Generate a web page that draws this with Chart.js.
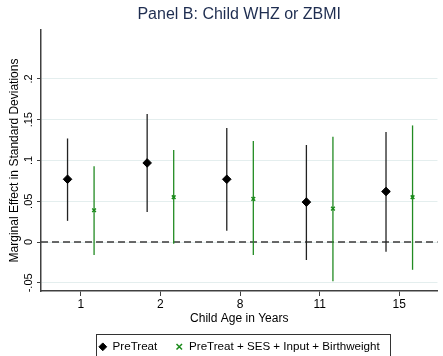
<!DOCTYPE html>
<html>
<head>
<meta charset="utf-8">
<script src="https://cdn.jsdelivr.net/npm/chart.js@4.4.0/dist/chart.umd.min.js"></script>
<style>
  html, body { margin: 0; padding: 0; background: #fff; overflow: hidden; }
  #wrap { width: 443px; height: 356px; }
</style>
</head>
<body>
<div id="wrap"><canvas id="chart" width="443" height="356"></canvas></div>
<script>
// child ages on the x axis
const ageLabels = ['1', '2', '8', '11', '15']

// PreTreat: estimate and 95% interval
const preTreat = [0.077, 0.097, 0.077, 0.049, 0.062]
const preTreatLo = [0.026, 0.037, 0.014, -0.022, -0.012]
const preTreatHi = [0.127, 0.157, 0.140, 0.119, 0.135]

// PreTreat + SES + Input + Birthweight
const fullModel = [0.039, 0.055, 0.053, 0.041, 0.055]
const fullModelLo = [-0.016, -0.002, -0.016, -0.048, -0.034]
const fullModelHi = [0.093, 0.113, 0.124, 0.129, 0.143]

const yTicks = [-0.05, 0, 0.05, 0.1, 0.15, 0.2]
const yTickLabels = ['-.05', '0', '.05', '.1', '.15', '.2']

Chart.defaults.font.family = '"Liberation Sans", Arial, sans-serif'
Chart.defaults.color = '#000'

const axisColor = '#404040'
const shift = 1 / 6

const toPoints = (vals, dx) => vals.map((v, i) => ({ x: i + 1 + dx, y: v }))

// vertical interval lines + dashed zero line
const errorBars = {
    id: 'errorBars',
    beforeDatasetsDraw(chart) {
        const { ctx, chartArea, scales: { y } } = chart
        const y0 = y.getPixelForValue(0)
        ctx.save()
        ctx.strokeStyle = '#3a3a3a'
        ctx.lineWidth = 1.5
        ctx.setLineDash([7, 4])
        ctx.beginPath()
        ctx.moveTo(chartArea.left, y0)
        ctx.lineTo(chartArea.right, y0)
        ctx.stroke()
        ctx.setLineDash([])
        chart.data.datasets.forEach((ds, di) => {
            const meta = chart.getDatasetMeta(di)
            ctx.strokeStyle = ds.barColor
            ctx.lineWidth = 1.3
            meta.data.forEach((pt, i) => {
                ctx.beginPath()
                ctx.moveTo(pt.x, y.getPixelForValue(ds.errLo[i]))
                ctx.lineTo(pt.x, y.getPixelForValue(ds.errHi[i]))
                ctx.stroke()
            })
        })
        ctx.restore()
    }
}

// rotated y tick labels and the legend frame
const decorations = {
    id: 'decorations',
    afterDraw(chart) {
        const { ctx, scales: { y }, legend } = chart
        ctx.save()
        ctx.fillStyle = '#000'
        ctx.font = '11px "Liberation Sans", Arial, sans-serif'
        ctx.textAlign = 'center'
        ctx.textBaseline = 'alphabetic'
        yTicks.forEach((v, i) => {
            ctx.save()
            ctx.translate(32, y.getPixelForValue(v))
            ctx.rotate(-Math.PI / 2)
            ctx.fillText(yTickLabels[i], 0, 0)
            ctx.restore()
        })
        const boxes = legend.legendHitBoxes
        if (boxes && boxes.length) {
            const first = boxes[0]
            const last = boxes[boxes.length - 1]
            const left = Math.round(first.left - 3) + 0.5
            const right = Math.round(last.left + last.width + 10) + 0.5
            ctx.strokeStyle = '#333'
            ctx.lineWidth = 1
            ctx.strokeRect(left, 334.5, right - left, 30)
        }
        ctx.restore()
    }
}

const ctx = document.getElementById('chart').getContext('2d')
new Chart(ctx, {
    type: 'scatter',
    data: {
        datasets: [{
            label: 'PreTreat',
            data: toPoints(preTreat, -shift),
            errLo: preTreatLo,
            errHi: preTreatHi,
            barColor: '#222',
            pointStyle: 'rectRot',
            pointRadius: 4.3,
            borderWidth: 1,
            backgroundColor: '#000',
            borderColor: '#000'
        }, {
            label: 'PreTreat + SES + Input + Birthweight',
            data: toPoints(fullModel, shift),
            errLo: fullModelLo,
            errHi: fullModelHi,
            barColor: '#228b22',
            pointStyle: 'crossRot',
            pointRadius: 2.6,
            borderWidth: 1.5,
            backgroundColor: '#1a8a1a',
            borderColor: '#1a8a1a'
        }]
    },
    options: {
        responsive: false,
        animation: false,
        events: [],
        layout: { padding: 0 },
        plugins: {
            title: {
                display: true,
                text: 'Panel B: Child WHZ or ZBMI',
                fullSize: false,
                color: '#1e2d50',
                font: { size: 16, weight: 'normal' },
                padding: { top: 5, bottom: 5.8 }
            },
            legend: {
                position: 'bottom',
                fullSize: false,
                maxHeight: 33,
                labels: {
                    usePointStyle: true,
                    boxWidth: 8,
                    boxHeight: 5.5,
                    padding: 18,
                    color: '#000',
                    font: { size: 11.6 }
                }
            },
            tooltip: { enabled: false }
        },
        scales: {
            x: {
                type: 'linear',
                min: 0.5,
                max: 5.48,
                afterBuildTicks: s => { s.ticks = ageLabels.map((_, i) => ({ value: i + 1 })) },
                afterFit: s => { s.height = 32 },
                ticks: {
                    callback: v => ageLabels[v - 1],
                    font: { size: 12 },
                    padding: 1,
                    maxRotation: 0
                },
                grid: {
                    drawOnChartArea: false,
                    tickLength: 5,
                    tickColor: axisColor
                },
                border: { color: axisColor, width: 1.5 },
                title: {
                    display: true,
                    text: 'Child Age in Years',
                    font: { size: 12 },
                    padding: { top: 0, bottom: -3 }
                }
            },
            y: {
                min: -0.06,
                max: 0.26,
                afterBuildTicks: s => { s.ticks = yTicks.map(v => ({ value: v })) },
                afterFit: s => { s.width = 41 },
                ticks: { display: false },
                grid: {
                    color: '#e4eeee',
                    lineWidth: 1,
                    tickLength: 4,
                    tickColor: axisColor
                },
                border: { color: axisColor, width: 1.5 },
                title: {
                    display: true,
                    text: 'Marginal Effect in Standard Deviations',
                    font: { size: 12 },
                    padding: { top: 7, bottom: 0 }
                }
            }
        }
    },
    plugins: [errorBars, decorations]
})
</script>
</body>
</html>
